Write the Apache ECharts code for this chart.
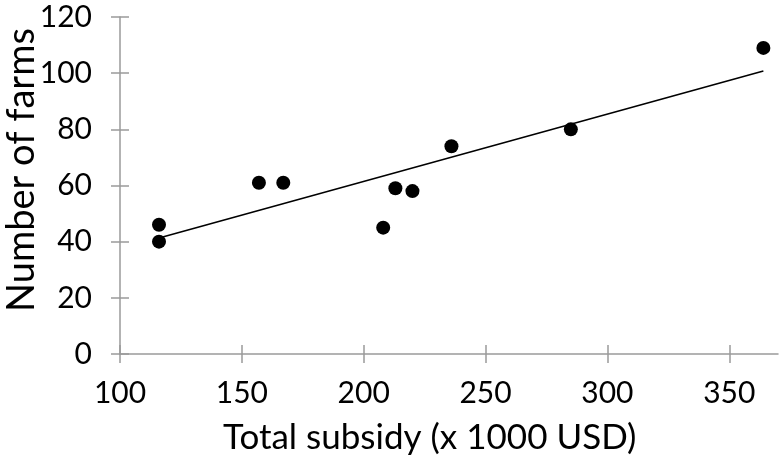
<!DOCTYPE html>
<html>
<head>
<meta charset="utf-8">
<script src="https://cdn.jsdelivr.net/npm/echarts@6/dist/echarts.min.js"></script>
<style>html,body{margin:0;padding:0;background:#fff}#c{width:779px;height:465px}</style>
</head>
<body>
<div id="c"></div>
<script>
var subsidy = [116, 116, 157, 167, 208, 213, 220, 236, 285, 364];
var farms   = [46, 40, 61, 61, 45, 59, 58, 74, 80, 109];
var trendX = [116, 364];
var trendY = [41.3, 100.8];
var xTicks = [100, 150, 200, 250, 300, 350];
var yTicks = [0, 20, 40, 60, 80, 100, 120];
var xTitle = 'Total subsidy (x 1000 USD)';
var yTitle = 'Number of farms';

var TICKFONT = 'Lato';
var TITLEFONT = 'Lato';
var AX = '#9a9a9a';
var chart = echarts.init(document.getElementById('c'), null, {renderer: 'canvas'});
var pts = subsidy.map(function (x, i) { return [x, farms[i]]; });
var tr = trendX.map(function (x, i) { return [x, trendY[i]]; });

function xAxis(outer) {
  return {
    type: 'value', min: 100, max: 370, interval: 50, position: 'bottom',
    axisLine: {show: outer, lineStyle: {color: AX, width: 1.5}},
    axisTick: {show: true, inside: !outer, length: 9, customValues: xTicks, lineStyle: {color: AX, width: 1.5}},
    axisLabel: {show: outer, showMaxLabel: false, margin: 24, fontSize: 30, fontFamily: TICKFONT, color: '#000'},
    splitLine: {show: false}
  };
}
function yAxis(outer) {
  return {
    type: 'value', min: 0, max: 120, interval: 20, position: 'left',
    axisLine: {show: outer, lineStyle: {color: AX, width: 1.5}},
    axisTick: {show: true, inside: !outer, length: 9, lineStyle: {color: AX, width: 1.5}},
    axisLabel: {show: outer, margin: 28, fontSize: 30, fontFamily: TICKFONT, color: '#000'},
    splitLine: {show: false}
  };
}

chart.setOption({
  animation: false,
  grid: {left: 120, top: 17, right: 1, bottom: 111},
  xAxis: [xAxis(true), xAxis(false)],
  yAxis: [yAxis(true), yAxis(false)],
  graphic: [
    {type: 'text', left: 223, top: 420, style: {text: xTitle, fontFamily: TITLEFONT, fontSize: 35, fill: '#000'}},
    {type: 'text', x: 22, y: 170, rotation: Math.PI / 2,
     style: {text: yTitle, fontFamily: TITLEFONT, fontSize: 38, fill: '#000', align: 'center', verticalAlign: 'middle'}}
  ],
  series: [
    {type: 'line', data: tr, xAxisIndex: 0, yAxisIndex: 0, symbol: 'none',
     lineStyle: {color: '#000', width: 1.6}, silent: true, z: 2},
    {type: 'scatter', data: pts, xAxisIndex: 0, yAxisIndex: 0, symbol: 'circle', symbolSize: 14,
     itemStyle: {color: '#000', opacity: 1}, z: 3}
  ]
});
</script>
</body>
</html>
